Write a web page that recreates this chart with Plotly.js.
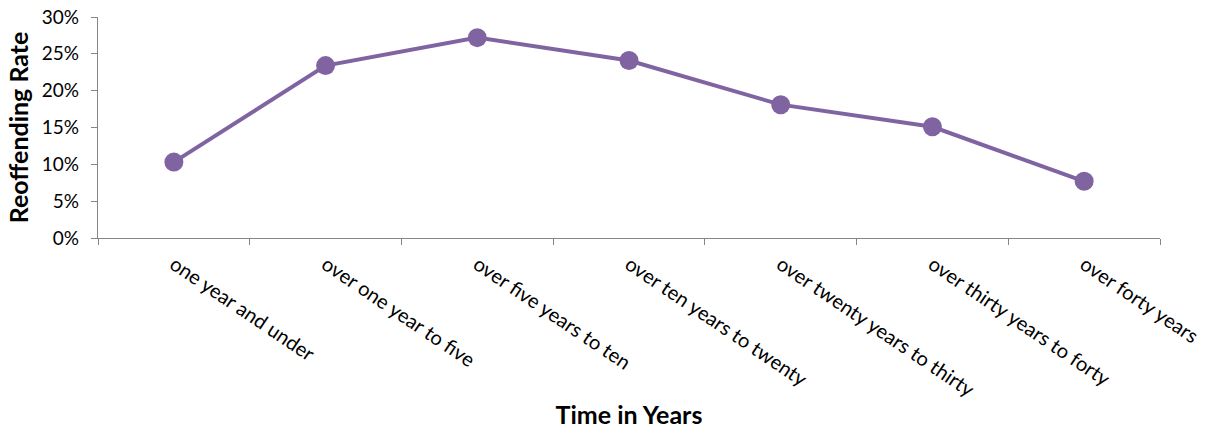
<!DOCTYPE html>
<html>
<head>
<meta charset="utf-8">
<script src="https://cdn.plot.ly/plotly-3.0.1.min.js"></script>
<style>html,body{margin:0;padding:0;background:#fff;}#chart{width:1207px;height:430px;}</style>
</head>
<body>
<div id="chart"></div>
<script>
const categories = [
  "one year and under",
  "over one year to five",
  "over five years to ten",
  "over ten years to twenty",
  "over twenty years to thirty",
  "over thirty years to forty",
  "over forty years"
];
const reoffendingRate = [0.103, 0.234, 0.272, 0.241, 0.181, 0.151, 0.077];
const yTickValues = [0, 0.05, 0.10, 0.15, 0.20, 0.25, 0.30];

const FONT = "Lato, 'Open Sans', sans-serif";
const AXIS_GREY = "#868686";
const PURPLE = "#8064A2";

const trace = {
  type: "scatter",
  mode: "lines+markers",
  x: categories,
  y: reoffendingRate,
  line: {color: PURPLE, width: 4},
  marker: {color: PURPLE, size: 19},
  hoverinfo: "x+y"
};

const layout = {
  width: 1207,
  height: 430,
  margin: {l: 98, r: 47, t: 17, b: 192},
  paper_bgcolor: "#ffffff",
  plot_bgcolor: "#ffffff",
  showlegend: false,
  font: {family: FONT, size: 17, color: "#000000"},
  xaxis: {
    type: "category",
    range: [-0.5, categories.length - 0.5],
    autorange: false,
    showline: true,
    linecolor: AXIS_GREY,
    linewidth: 1.3,
    showgrid: false,
    zeroline: false,
    ticks: "outside",
    tickson: "boundaries",
    ticklen: 6,
    tickcolor: AXIS_GREY,
    tickangle: 34,
    ticklabelstandoff: 6,
    tickfont: {family: FONT, size: 20, color: "#000000"},
    title: {text: "<b>Time in Years</b>", font: {family: FONT, size: 25, color: "#000000"}, standoff: 6}
  },
  yaxis: {
    range: [0, 0.30],
    autorange: false,
    tickvals: yTickValues,
    tickformat: ".0%",
    showline: true,
    linecolor: AXIS_GREY,
    linewidth: 1.3,
    showgrid: false,
    zeroline: false,
    ticks: "outside",
    ticklen: 6,
    tickcolor: AXIS_GREY,
    ticklabelstandoff: 8,
    tickfont: {family: FONT, size: 19, color: "#000000"},
    title: {text: "<b>Reoffending Rate</b>", font: {family: FONT, size: 25, color: "#000000"}, standoff: 6}
  }
};

Plotly.newPlot("chart", [trace], layout, {displayModeBar: false});
</script>
</body>
</html>
